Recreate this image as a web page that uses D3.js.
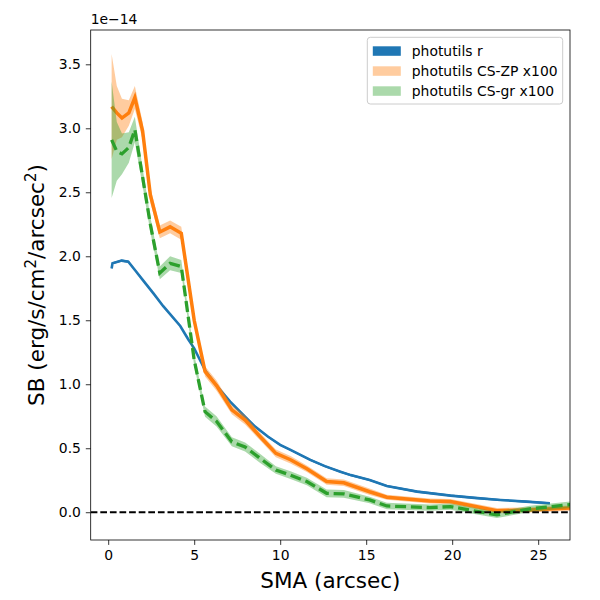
<!DOCTYPE html>
<html>
<head>
<meta charset="utf-8">
<script src="https://cdn.jsdelivr.net/npm/d3@7"></script>
<style>
  body { margin: 0; background: #fff; }
  svg text { font-family: "DejaVu Sans", sans-serif; }
</style>
</head>
<body>
<div id="chart"></div>
<script>
// values in units of 1e-14 erg/s/cm^2/arcsec^2
var smaR = [0.2, 0.25, 0.5, 0.78, 1.17, 1.6, 2.04, 2.63, 3.2, 4.19, 4.66, 5.0, 5.63, 6.3, 7.09, 8.0, 8.54, 9.3, 10.0, 10.6, 11.75, 12.6, 13.5, 14.1, 15.2, 16.2, 17.96, 19.9, 21.3, 22.8, 24.3, 25.68];
var sbR = [1.905, 1.945, 1.955, 1.966, 1.958, 1.885, 1.81, 1.71, 1.61, 1.455, 1.35, 1.28, 1.11, 0.99, 0.864, 0.74, 0.669, 0.59, 0.526, 0.487, 0.409, 0.36, 0.317, 0.29, 0.252, 0.205, 0.161, 0.13, 0.112, 0.096, 0.083, 0.07];
var errR = 0.008;

var sma = [0.2, 0.5, 0.8, 1.2, 1.55, 2.0, 2.45, 3.0, 3.6, 4.25, 5.0, 5.63, 6.3, 7.19, 7.96, 8.84, 9.75, 10.6, 11.55, 12.7, 13.7, 15.2, 16.2, 18.7, 19.9, 22.6, 24.5, 27.3];
var sbZP = [3.17, 3.12, 3.08, 3.12, 3.24, 2.98, 2.48, 2.19, 2.23, 2.18, 1.50, 1.10, 0.99, 0.80, 0.72, 0.59, 0.46, 0.41, 0.34, 0.24, 0.23, 0.16, 0.117, 0.088, 0.083, 0.0125, 0.018, 0.035];
var errZP = [0.41, 0.21, 0.15, 0.10, 0.09, 0.07, 0.06, 0.05, 0.05, 0.05, 0.045, 0.04, 0.04, 0.035, 0.035, 0.03, 0.03, 0.03, 0.025, 0.025, 0.025, 0.025, 0.02, 0.02, 0.02, 0.02, 0.02, 0.02];
var sbGR = [2.91, 2.82, 2.80, 2.85, 2.99, 2.62, 2.25, 1.87, 1.945, 1.92, 1.19, 0.786, 0.71, 0.55, 0.51, 0.42, 0.33, 0.29, 0.24, 0.148, 0.143, 0.096, 0.049, 0.036, 0.044, -0.021, 0.026, 0.065];
var errGR = [0.455, 0.23, 0.16, 0.12, 0.10, 0.07, 0.06, 0.05, 0.055, 0.05, 0.045, 0.04, 0.04, 0.035, 0.035, 0.035, 0.03, 0.03, 0.03, 0.03, 0.03, 0.025, 0.025, 0.025, 0.025, 0.025, 0.025, 0.025];

var xTicks = [0, 5, 10, 15, 20, 25];
var yTicks = [0, 0.5, 1.0, 1.5, 2.0, 2.5, 3.0, 3.5];
var legendLabels = ["photutils r", "photutils CS-ZP x100", "photutils CS-gr x100"];
var colors = ["#1f77b4", "#ff7f0e", "#2ca02c"];

var W = 600, H = 600;
var m = {left: 90.7, right: 30, top: 30, bottom: 60};
var pw = W - m.left - m.right, ph = H - m.top - m.bottom;

var svg = d3.select("#chart").append("svg")
    .attr("width", W).attr("height", H);

var x = d3.scaleLinear().domain([-1.017, 26.85]).range([0, pw]);
var y = d3.scaleLinear().domain([-0.217, 3.768]).range([ph, 0]);

var g = svg.append("g").attr("transform", `translate(${m.left},${m.top})`);

g.append("clipPath").attr("id", "clip")
    .append("rect").attr("width", pw).attr("height", ph);

var plot = g.append("g").attr("clip-path", "url(#clip)");

function band(xs, ys, err) {
    var pts = xs.map(function (d, i) {
        var e = Array.isArray(err) ? err[i] : err;
        return [d, ys[i] - e, ys[i] + e];
    });
    return d3.area()
        .x(function (d) { return x(d[0]); })
        .y0(function (d) { return y(d[1]); })
        .y1(function (d) { return y(d[2]); })(pts);
}
function line(xs, ys) {
    return d3.line()
        .x(function (d, i) { return x(xs[i]); })
        .y(function (d) { return y(d); })(ys);
}

// photutils r
plot.append("path").attr("d", band(smaR, sbR, errR))
    .attr("fill", colors[0]);
plot.append("path").attr("d", line(smaR, sbR))
    .attr("fill", "none").attr("stroke", colors[0]).attr("stroke-width", 2.6);

// CS-ZP
plot.append("path").attr("d", band(sma, sbZP, errZP))
    .attr("fill", colors[1]).attr("opacity", 0.4);
plot.append("path").attr("d", line(sma, sbZP))
    .attr("fill", "none").attr("stroke", colors[1]).attr("stroke-width", 3.5);

// CS-gr
plot.append("path").attr("d", band(sma, sbGR, errGR))
    .attr("fill", colors[2]).attr("opacity", 0.4);
plot.append("path").attr("d", line(sma, sbGR))
    .attr("fill", "none").attr("stroke", colors[2]).attr("stroke-width", 3.3)
    .attr("stroke-dasharray", "11,4.8");

// zero line
plot.append("line")
    .attr("x1", 0).attr("x2", pw)
    .attr("y1", y(0)).attr("y2", y(0))
    .attr("stroke", "#000").attr("stroke-width", 1.8)
    .attr("stroke-dasharray", "6.7,2.9");

// axes
var xAxis = g.append("g").attr("transform", `translate(0,${ph})`)
    .call(d3.axisBottom(x).tickValues(xTicks).tickFormat(d3.format("d"))
        .tickSizeInner(4.9).tickSizeOuter(0).tickPadding(4.9));
var yAxis = g.append("g")
    .call(d3.axisLeft(y).tickValues(yTicks).tickFormat(d3.format(".1f"))
        .tickSizeInner(4.9).tickSizeOuter(0).tickPadding(4.9));
[xAxis, yAxis].forEach(function (a) {
    a.select(".domain").remove();
    a.selectAll(".tick line").attr("stroke", "#000").attr("stroke-width", 0.8);
    a.selectAll(".tick text").attr("fill", "#000").style("font-size", "13.9px")
        .style("font-family", "DejaVu Sans");
});

g.append("rect").attr("width", pw).attr("height", ph)
    .attr("fill", "none").attr("stroke", "#000").attr("stroke-width", 0.8);

// offset text
g.append("text").attr("x", 0).attr("y", -6)
    .style("font-size", "13.9px").text("1e\u221214");

// labels
svg.append("text")
    .attr("x", m.left + pw / 2).attr("y", 588)
    .attr("text-anchor", "middle").style("font-size", "21.5px")
    .text("SMA (arcsec)");

var yl = svg.append("text")
    .attr("transform", `translate(44,${m.top + ph / 2}) rotate(-90)`)
    .attr("text-anchor", "middle").style("font-size", "21.5px");
yl.append("tspan").text("SB (erg/s/cm");
yl.append("tspan").attr("dy", -8).style("font-size", "15px").text("2");
yl.append("tspan").attr("dy", 8).text("/arcsec");
yl.append("tspan").attr("dy", -8).style("font-size", "15px").text("2");
yl.append("tspan").attr("dy", 8).text(")");

// legend
var lg = svg.append("g").attr("transform", "translate(367.3,37.3)");
lg.append("rect").attr("width", 195.4).attr("height", 66.7)
    .attr("rx", 3).attr("fill", "#fff").attr("fill-opacity", 0.8)
    .attr("stroke", "#cccccc").attr("stroke-width", 1);
var legOpacity = [1, 0.4, 0.4];
legendLabels.forEach(function (lab, i) {
    var cy = 13.5 + i * 20;
    lg.append("rect").attr("x", 5.5).attr("y", cy - 4.5)
        .attr("width", 28).attr("height", 9.5)
        .attr("fill", colors[i]).attr("opacity", legOpacity[i]);
    lg.append("text").attr("x", 44.5).attr("y", cy + 5)
        .style("font-size", "13.9px").text(lab);
});
</script>
</body>
</html>
